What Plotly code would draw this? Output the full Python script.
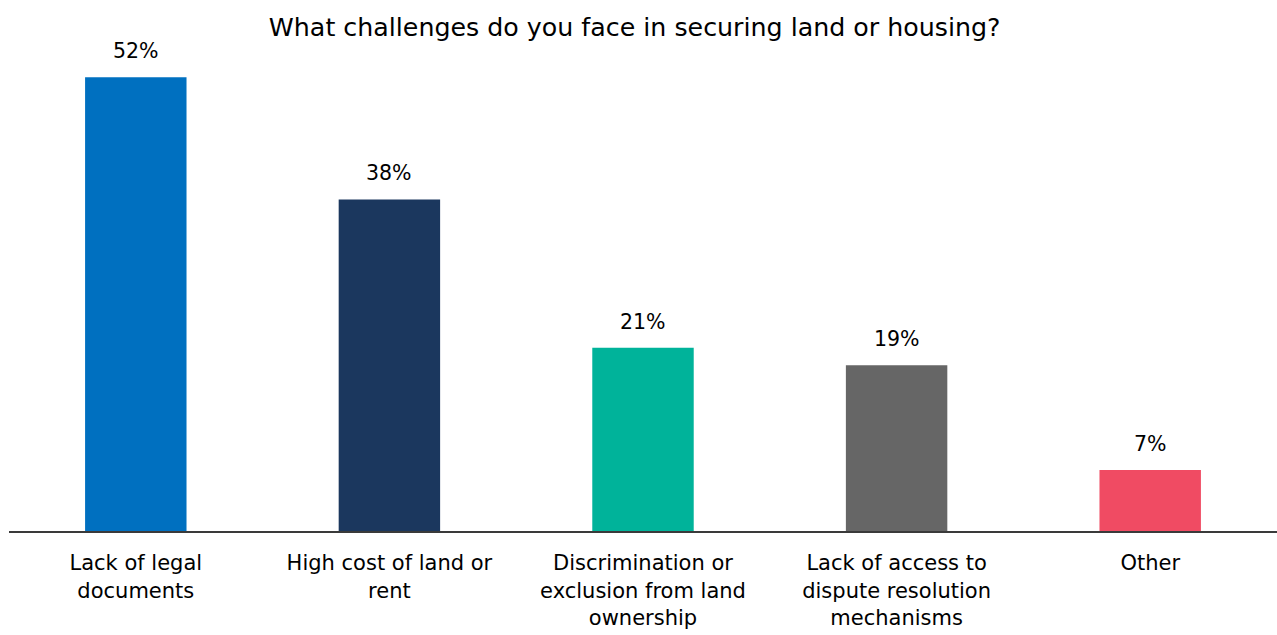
import plotly.graph_objects as go

categories = [
    "Lack of legal<br>documents",
    "High cost of land or<br>rent",
    "Discrimination or<br>exclusion from land<br>ownership",
    "Lack of access to<br>dispute resolution<br>mechanisms",
    "Other",
]
values = [52, 38, 21, 19, 7]
colors = ["#0070C0", "#1B375E", "#00B39A", "#666666", "#F04B63"]

FONT = "DejaVu Sans"

fig = go.Figure(
    go.Bar(
        x=categories,
        y=values,
        marker=dict(color=colors, line=dict(width=0)),
        hoverinfo="skip",
    )
)

# value labels above each bar
for c, v in zip(categories, values):
    fig.add_annotation(
        x=c, y=v, text=f"{v}%", showarrow=False,
        yanchor="bottom", yshift=12,
        font=dict(family=FONT, size=20.5, color="#000000"),
    )

fig.update_layout(
    width=1277, height=635,
    margin=dict(l=9, r=0, t=45, b=104),
    paper_bgcolor="white", plot_bgcolor="white",
    bargap=0.6,
    showlegend=False,
    title=dict(
        text="What challenges do you face in securing land or housing?",
        x=0.497, xanchor="center", y=0.957, yanchor="middle",
        font=dict(family=FONT, size=25.3, color="#000000"),
    ),
    font=dict(family=FONT, size=21, color="#000000"),
)
fig.update_xaxes(
    showline=True, linecolor="#3a3a3a", linewidth=2,
    showgrid=False, ticks="", tickfont=dict(family=FONT, size=21, color="#000000"),
    ticklabelstandoff=12,
)
fig.update_yaxes(range=[0, 55.7], visible=False, showgrid=False)

fig.write_html("out.html")
